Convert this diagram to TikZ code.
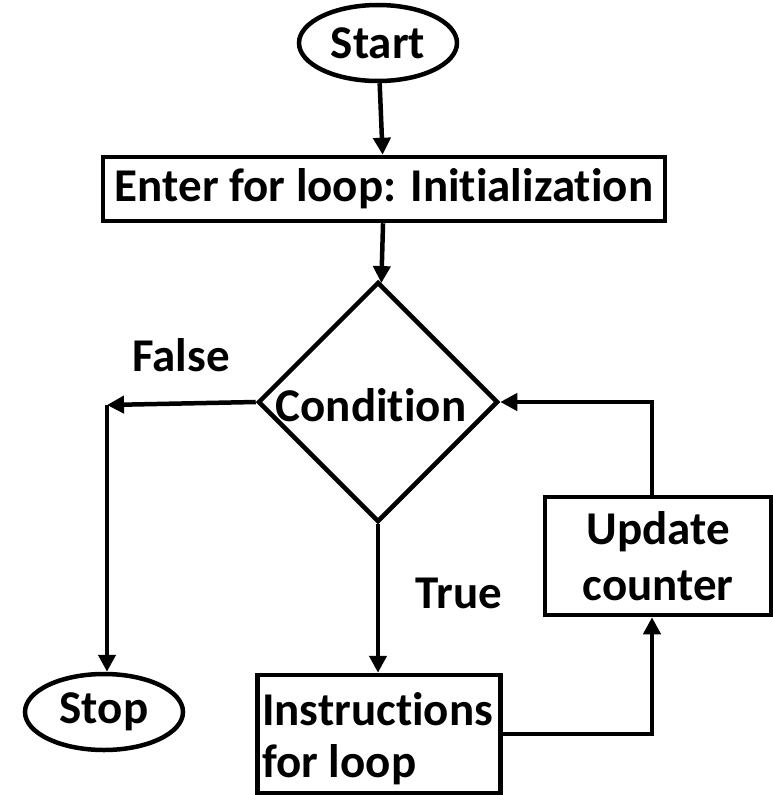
\documentclass[tikz,border=0pt]{standalone}
\usepackage{fontspec}
\setmainfont{Carlito}[Ligatures={NoCommon,NoContextual}]
\usetikzlibrary{shapes.geometric,arrows.meta}
\begin{document}
\begin{tikzpicture}[x=1pt,y=-1pt,
  every node/.style={font=\fontsize{47}{56}\selectfont\bfseries},
  term/.style={draw,line width=4.5pt,ellipse,inner sep=0pt},
  proc/.style={draw,line width=4.5pt,rectangle,inner sep=2pt},
  decide/.style={draw,line width=4.5pt,diamond,aspect=1,inner sep=0pt,minimum size=240pt},
  flow/.style={line width=4.5pt,-{Triangle[length=17pt,width=17pt]}},
  lbl/.style={inner sep=0pt}]
\useasboundingbox (0,0) rectangle (773,795);
\node[term,minimum width=158pt,minimum height=76pt] (start) at (378,43) {Start};
\node[proc,minimum width=562pt,minimum height=64pt] (init) at (384,189) {Enter for loop: Initialization};
\node[decide] (cond) at (378,402) {};
\node[lbl] (condt) at (371,405) {Condition};
\node[term,minimum width=158pt,minimum height=76pt] (stop) at (104,712) {Stop};
\node[proc,minimum width=243pt,minimum height=118pt] (instr) at (379,734) {};
\node[lbl,anchor=base west] (instrt1) at (262,725) {Instructions};
\node[lbl,anchor=base west] (instrt2) at (262,777) {for loop};
\node[proc,minimum width=226pt,minimum height=118pt,align=center] (upd) at (658,556) {Update\\counter};
\coordinate (fc) at (107,405);
\coordinate (ub) at ([xshift=-6pt]upd.south);
\coordinate (ut) at ([xshift=-6pt]upd.north);
\node[lbl] (false) at (181,355) {False};
\node[lbl] (true) at (459,593) {True};
\draw[flow] (start) -- (init);
\draw[flow] (init) -- (cond);
\draw[flow] (cond.west) -- (fc);
\draw[flow] (fc) -- (fc |- stop.north);
\draw[flow] (cond.south) -- (instr.north -| cond.south);
\draw[flow] (instr.east) -| (ub);
\draw[flow] (ut) |- (cond.east);
\end{tikzpicture}
\end{document}
